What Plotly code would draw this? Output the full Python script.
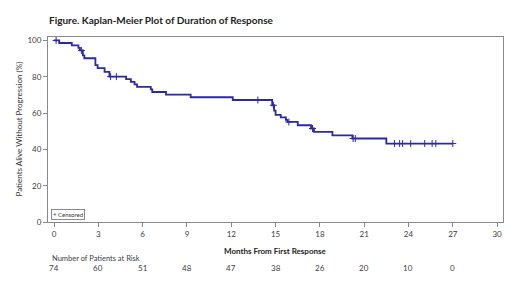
import numpy as np
import plotly.graph_objects as go

# Kaplan-Meier estimates (event times in months, survival % after the event)
event_months = [0.35, 1.2, 1.65, 1.75, 1.95, 2.05, 2.8, 2.95, 3.42, 3.75, 4.88, 5.2,
                5.45, 5.62, 6.55, 6.65, 7.58, 9.25, 12.1, 14.77, 14.9, 15.0, 15.35,
                15.7, 15.8, 16.5, 17.4, 17.6, 18.85, 20.2, 22.5]
survival_pct = [98.6, 97.3, 95.9, 94.5, 91.8, 90.2, 86.4, 84.8, 82.7, 80.1, 78.7, 77.2,
                75.8, 74.4, 73.0, 71.6, 70.2, 68.7, 67.2, 64.3, 61.4, 59.0, 57.6,
                56.2, 55.1, 53.3, 51.5, 49.6, 47.7, 46.0, 43.2]
last_followup = 27.0
censor_months = [0.14, 1.85, 3.83, 4.22, 13.8, 14.85, 15.9, 17.5, 20.25, 20.4,
                 23.05, 23.4, 23.6, 24.15, 25.1, 25.6, 25.85, 27.0]

risk_months = [0, 3, 6, 9, 12, 15, 18, 21, 24, 27]
at_risk = [74, 60, 51, 48, 47, 38, 26, 20, 10, 0]

x_ticks = list(range(0, 31, 3))
y_ticks = [0, 20, 40, 60, 80, 100]

LINE = "#2a2aa8"
FONT = "Lato, 'Open Sans', sans-serif"

km_x = [0.0] + event_months + [last_followup]
km_y = [100.0] + survival_pct + [survival_pct[-1]]

ev = np.array(event_months)
sv = np.array(survival_pct)
def surv_at(t):
    i = np.searchsorted(ev, t, side="right")
    return 100.0 if i == 0 else float(sv[i - 1])
censor_y = [surv_at(t) for t in censor_months]

fig = go.Figure()
fig.add_trace(go.Scatter(x=km_x, y=km_y, mode="lines", line=dict(color=LINE, width=1.8, shape="hv"),
                         showlegend=False, hoverinfo="skip"))
fig.add_trace(go.Scatter(x=censor_months, y=censor_y, mode="markers", name="Censored",
                         marker=dict(symbol="cross-thin-open", size=5, color=LINE,
                                     line=dict(color=LINE, width=1)),
                         showlegend=False))

axis_common = dict(showgrid=False, zeroline=False, showline=True, linecolor="#8a8a8a",
                   linewidth=1, mirror=True, ticks="outside", ticklen=4, tickcolor="#8a8a8a",
                   tickfont=dict(size=8, color="#404040", family=FONT))
fig.update_xaxes(range=[-0.41, 30.4], tickvals=x_ticks, **axis_common)
fig.update_yaxes(range=[0, 101.9], tickvals=y_ticks, **axis_common)

ann = []
ann.append(dict(text="<b>Figure. Kaplan-Meier Plot of Duration of Response</b>", xref="paper", yref="paper",
                x=-0.002, y=(222 - 20) / 185, xanchor="left", yanchor="middle", showarrow=False,
                font=dict(size=10, color="#222", family=FONT)))
ann.append(dict(text="<b>Months From First Response</b>", xref="paper", yref="paper", x=0.5,
                y=-(251 - 222) / 185, xanchor="center", yanchor="middle", showarrow=False,
                font=dict(size=8, color="#222", family=FONT)))
ann.append(dict(text="Patients Alive Without Progression (%)", xref="paper", yref="paper",
                x=-(48 - 18) / 455.3, y=0.5, xanchor="center", yanchor="middle", textangle=-90,
                showarrow=False, font=dict(size=8, color="#333", family=FONT)))
ann.append(dict(text="Number of Patients at Risk", xref="paper", yref="paper", x=(50 - 48) / 455.3,
                y=-(258 - 222) / 185, xanchor="left", yanchor="middle", showarrow=False,
                font=dict(size=7.5, color="#404040", family=FONT)))
for m, n in zip(risk_months, at_risk):
    ann.append(dict(text=str(n), xref="x", yref="paper", x=m, y=-(267.5 - 222) / 185,
                    xanchor="center", yanchor="middle", showarrow=False,
                    font=dict(size=8, color="#404040", family=FONT)))
ann.append(dict(text=f"<span style='color:{LINE}'>+</span> Censored", xref="paper", yref="paper",
                x=(51 - 48) / 455.3, y=(222 - 220) / 185, xanchor="left", yanchor="bottom",
                showarrow=False, bordercolor="#8a8a8a", borderwidth=1, borderpad=1,
                bgcolor="white", font=dict(size=6, color="#333", family=FONT)))

# page body has an 8px margin, so the figure is offset by 8px
fig.update_layout(width=512, height=279, margin=dict(l=40, r=17, t=29, b=65),
                  plot_bgcolor="white", paper_bgcolor="white", annotations=ann,
                  font=dict(family=FONT))
fig.write_html("out.html")
